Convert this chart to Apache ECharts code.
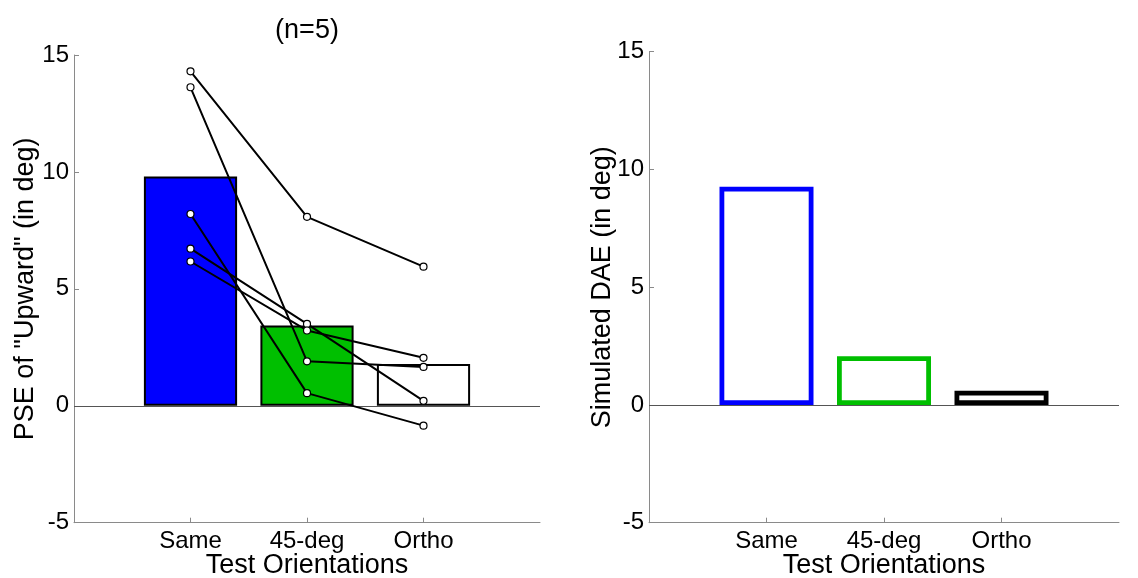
<!DOCTYPE html>
<html>
<head>
<meta charset="utf-8">
<script src="https://cdn.jsdelivr.net/npm/echarts@6/dist/echarts.min.js"></script>
<style>
html,body{margin:0;padding:0;background:#fff;}
#chart{width:1138px;height:578px;}
</style>
</head>
<body>
<div id="chart"></div>
<script>
// ---- data ----
const categories = ['', 'Same', '45-deg', 'Ortho', ''];
const testCats = ['Same', '45-deg', 'Ortho'];
const pseMeans = [9.8, 3.43, 1.79];
const subject1 = [14.3, 8.08, 5.95];
const subject2 = [13.62, 1.9, 1.66];
const subject3 = [8.2, 0.54, -0.85];
const subject4 = [6.72, 3.5, 0.21];
const subject5 = [6.17, 3.22, 2.05];
const simulatedDAE = [9.27, 2.07, 0.6];
const yMin = -5, yMax = 15, yStep = 5;
const titleText = '(n=5)';
const xName = 'Test Orientations';
const yNameLeft = 'PSE of "Upward" (in deg)';
const yNameRight = 'Simulated DAE (in deg)';

// ---- styles ----
const FONT = "'Liberation Sans', Arial, Helvetica, sans-serif";
const leftFill = ['#0000ff', '#00bf00', '#ffffff'];
const rightEdge = ['#0000ff', '#00bf00', '#000000'];
const axisGray = '#8a8a8a';

const subjects = [subject1, subject2, subject3, subject4, subject5];

function xAxisCfg(gridIndex) {
  return {
    type: 'category', gridIndex, data: categories, boundaryGap: false,
    name: xName, nameLocation: 'middle', nameGap: 29.5, nameMoveOverlap: false,
    nameTextStyle: { fontFamily: FONT, fontSize: 27, color: '#000' },
    axisLine: { onZero: false, lineStyle: { color: axisGray, width: 1 } },
    axisTick: { inside: true, length: 5, lineStyle: { color: axisGray },
      interval: (i, v) => v !== '' },
    axisLabel: { interval: 0, margin: 7, fontFamily: FONT, fontSize: 24, color: '#000' },
    splitLine: { show: false }
  };
}
function yAxisCfg(gridIndex, name, gap) {
  return {
    type: 'value', gridIndex, min: yMin, max: yMax, interval: yStep,
    name, nameLocation: 'middle', nameGap: gap, nameMoveOverlap: false,
    nameTextStyle: { fontFamily: FONT, fontSize: 27, color: '#000' },
    axisLine: { show: true, lineStyle: { color: axisGray, width: 1 } },
    axisTick: { show: true, inside: true, length: 5, lineStyle: { color: axisGray } },
    axisLabel: { margin: 5, fontFamily: FONT, fontSize: 24, color: '#000' },
    splitLine: { show: false }
  };
}
const zeroLine = {
  silent: true, symbol: ['none', 'none'], label: { show: false },
  lineStyle: { color: '#555', width: 1, type: 'solid' },
  data: [{ yAxis: 0 }]
};

const series = [];
series.push({
  type: 'bar', xAxisIndex: 0, yAxisIndex: 0, barWidth: '80%', z: 2,
  data: testCats.map((c, i) => ({ value: [c, pseMeans[i]],
    itemStyle: { color: leftFill[i], borderColor: '#000', borderWidth: 2 } })),
  markLine: zeroLine
});
subjects.forEach(s => {
  series.push({
    type: 'line', xAxisIndex: 0, yAxisIndex: 0, z: 5,
    data: testCats.map((c, i) => [c, s[i]]),
    symbol: 'circle', symbolSize: 7, showAllSymbol: true,
    lineStyle: { color: '#000', width: 2 },
    itemStyle: { color: '#fff', borderColor: '#000', borderWidth: 1.2 }
  });
});
series.push({
  type: 'bar', xAxisIndex: 1, yAxisIndex: 1, barWidth: '80%', z: 2,
  data: testCats.map((c, i) => ({ value: [c, simulatedDAE[i]],
    itemStyle: { color: 'rgba(255,255,255,0)', borderColor: rightEdge[i], borderWidth: 4.8 } })),
  markLine: zeroLine
});

const chart = echarts.init(document.getElementById('chart'), null, { renderer: 'canvas' });
chart.setOption({
  animation: false,
  backgroundColor: '#fff',
  title: { text: titleText, left: 302, top: 12, textAlign: 'center',
    textStyle: { fontFamily: FONT, fontSize: 27, fontWeight: 'normal', color: '#000' } },
  grid: [
    { left: 74, top: 55, width: 466, height: 467.7, containLabel: false, outerBoundsMode: 'none' },
    { left: 649, top: 51.7, width: 470, height: 471, containLabel: false, outerBoundsMode: 'none' }
  ],
  xAxis: [xAxisCfg(0), xAxisCfg(1)],
  yAxis: [yAxisCfg(0, yNameLeft, 35), yAxisCfg(1, yNameRight, 33)],
  series
});
</script>
</body>
</html>
